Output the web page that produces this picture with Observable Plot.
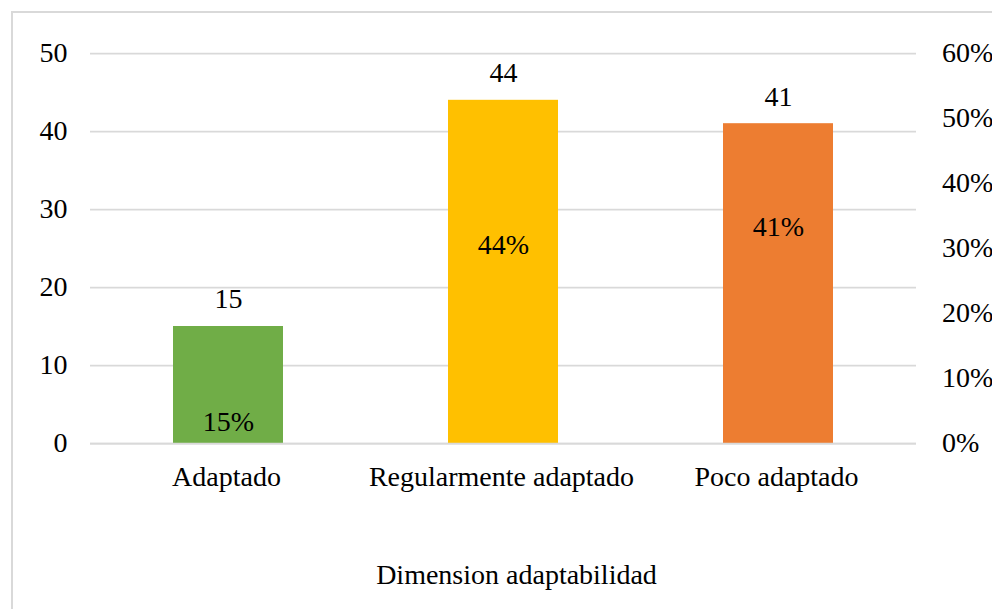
<!DOCTYPE html>
<html>
<head>
<meta charset="utf-8">
<script src="https://cdn.jsdelivr.net/npm/d3@7"></script>
<script src="https://cdn.jsdelivr.net/npm/@observablehq/plot@0.6"></script>
<style>
  html, body { margin: 0; padding: 0; background: #fff; overflow: hidden; }
  #wrap { position: relative; width: 992px; height: 609px; }
  #border {
    position: absolute; left: 11px; top: 11px; width: 1000px; height: 620px;
    border-left: 2px solid #d9d9d9; border-top: 2px solid #d9d9d9; box-sizing: border-box;
  }
  #chart { position: absolute; left: 0; top: 0; }
  #chart svg, #chart svg text { font-family: "Liberation Serif", "Times New Roman", "DejaVu Serif", serif !important; }
</style>
</head>
<body>
<div id="wrap"><div id="border"></div><div id="chart"></div></div>
<script>
// Levels of the adaptability dimension
const categories = ["Adaptado", "Regularmente adaptado", "Poco adaptado"];
// Respondent counts per level
const counts = [15, 44, 41];
// Share of respondents per level
const percents = [0.15, 0.44, 0.41];
// Left axis ticks (counts) and right axis ticks (shares)
const countTicks = [0, 10, 20, 30, 40, 50];
const shareTicks = [0, 0.1, 0.2, 0.3, 0.4, 0.5, 0.6];
const xTitle = "Dimension adaptabilidad";

const colors = ["#70AD47", "#FFC000", "#ED7D31"];
const yMax = 50, shareMax = 0.6;
// vertical placement (in count units) of the share labels inside each bar
const shareLabelAt = [2.8, 25.4, 27.8];

const data = categories.map((c, i) => ({
  cat: c, count: counts[i], share: percents[i], labelAt: shareLabelAt[i]
}));

const font = "Liberation Serif";
const pct = d3.format(".0%");

const chart = Plot.plot({
  width: 992,
  height: 609,
  marginLeft: 90,
  marginRight: 76,
  marginTop: 53,
  marginBottom: 166,
  style: { fontFamily: font, fontSize: "28px", color: "#000", background: "transparent", overflow: "visible" },
  x: { domain: categories, paddingInner: 0.6, paddingOuter: 0.3, label: null },
  y: { domain: [0, yMax], label: null },
  color: { domain: categories, range: colors },
  marks: [
    Plot.ruleY(countTicks, { stroke: "#d9d9d9", strokeWidth: 1.75 }),
    Plot.barY(data, { x: "cat", y: "count", fill: "cat" }),
    Plot.ruleY([0], { stroke: "#d9d9d9", strokeWidth: 1.75 }),
    Plot.text(data, { x: "cat", y: "count", text: d => String(d.count), dy: -27, fill: "#000", fontFamily: font }),
    Plot.text(data, { x: "cat", y: "labelAt", text: d => pct(d.share), fill: "#000", fontFamily: font }),
    Plot.axisY(countTicks, { anchor: "left", tickSize: 0, tickPadding: 23, label: null, fontFamily: font }),
    Plot.axisY(shareTicks.map(s => s / shareMax * yMax), {
      anchor: "right", tickSize: 0, tickPadding: 25.5, label: null, fontFamily: font,
      tickFormat: v => pct(Math.round(v / yMax * shareMax * 100) / 100)
    }),
    Plot.axisX({ tickSize: 0, tickPadding: 23, label: null, fontFamily: font, dx: -2 }),
    Plot.text([xTitle], { frameAnchor: "bottom", dx: 13, dy: 140, fill: "#000", fontFamily: font })
  ]
});

document.getElementById("chart").appendChild(chart);
</script>
</body>
</html>
